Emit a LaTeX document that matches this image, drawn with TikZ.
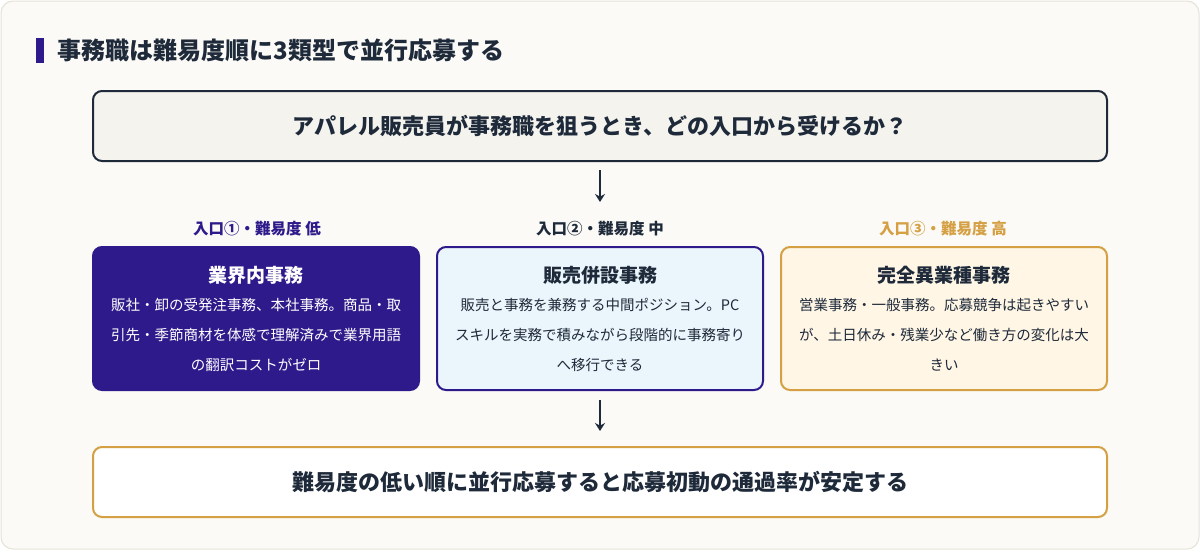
\documentclass[tikz,border=0pt]{standalone}
\usepackage{fontspec}
\setmainfont{Noto Sans CJK JP}
\usetikzlibrary{arrows.meta}
\definecolor{navy}{HTML}{1E2A3A}
\definecolor{indig}{HTML}{2E1A8A}
\definecolor{gold}{HTML}{D4A043}
\definecolor{bgc}{HTML}{FBFAF6}
\definecolor{bdc}{HTML}{E5E2D8}
\definecolor{qfill}{HTML}{F4F3EE}
\definecolor{bfill}{HTML}{EAF6FB}
\definecolor{cfill}{HTML}{FFF6E6}
\newcommand{\myhd}{\bfseries\fontsize{19}{22}\selectfont}
\newcommand{\mybd}{\mdseries\fontsize{14.5}{30}\selectfont}
\begin{document}
\begin{tikzpicture}[x=1pt,y=-1pt,
  box/.style={rounded corners=9pt,line width=2pt,minimum height=143pt,minimum width=326pt,text width=318pt,align=center,inner sep=0pt},
  wide/.style={rounded corners=9pt,line width=2pt,minimum height=70pt,minimum width=1014pt,font=\bfseries\fontsize{22}{26}\selectfont,text=navy},
  lab/.style={font=\bfseries\fontsize{15.5}{18}\selectfont},
  arr/.style={line width=2pt,draw=navy,-{Stealth[length=8pt,width=10pt]}}]
\useasboundingbox (0,0) rectangle (1200,550);
\draw[fill=bgc,draw=bdc,line width=1pt,rounded corners=12pt] (1,1) rectangle (1199,549);
\fill[indig] (36,38) rectangle (44,63);
\node[anchor=west,font=\bfseries\fontsize{24}{28}\selectfont,text=navy] (title) at (54,50) {事務職は難易度順に3類型で並行応募する};
\node[wide,draw=navy,fill=qfill] (q) at (600,126) {アパレル販売員が事務職を狙うとき、どの入口から受けるか？};
\node[lab,text=indig] (l1) at (257,229) {入口①・難易度 低};
\node[lab,text=navy] (l2) at (600,229) {入口②・難易度 中};
\node[lab,text=gold] (l3) at (943,229) {入口③・難易度 高};
\node[box,draw=indig,fill=indig,text=white] (b1) at (256,318.5) {{\myhd 業界内事務}\\[-2pt]{\mybd 販社・卸の受発注事務、本社事務。商品・取\\引先・季節商材を体感で理解済みで業界用語\\の翻訳コストがゼロ\par}};
\node[box,draw=indig,fill=bfill,text=navy] (b2) at (600,318.5) {{\myhd 販売併設事務}\\[-2pt]{\mybd 販売と事務を兼務する中間ポジション。PC\\スキルを実務で積みながら段階的に事務寄り\\へ移行できる\par}};
\node[box,draw=gold,fill=cfill,text=navy] (b3) at (944,318.5) {{\myhd 完全異業種事務}\\[-2pt]{\mybd 営業事務・一般事務。応募競争は起きやすい\\が、土日休み・残業少など働き方の変化は大\\きい\par}};
\node[wide,draw=gold,fill=white] (r) at (600,482) {難易度の低い順に並行応募すると応募初動の通過率が安定する};
\path (q.south) ++(0,8) coordinate (qa) ++(0,32) coordinate (qb);
\path (b2.south) ++(0,9) coordinate (ba) ++(0,31) coordinate (bb);
\draw[arr] (qa) -- (qb);
\draw[arr] (ba) -- (bb);
\end{tikzpicture}
\end{document}
